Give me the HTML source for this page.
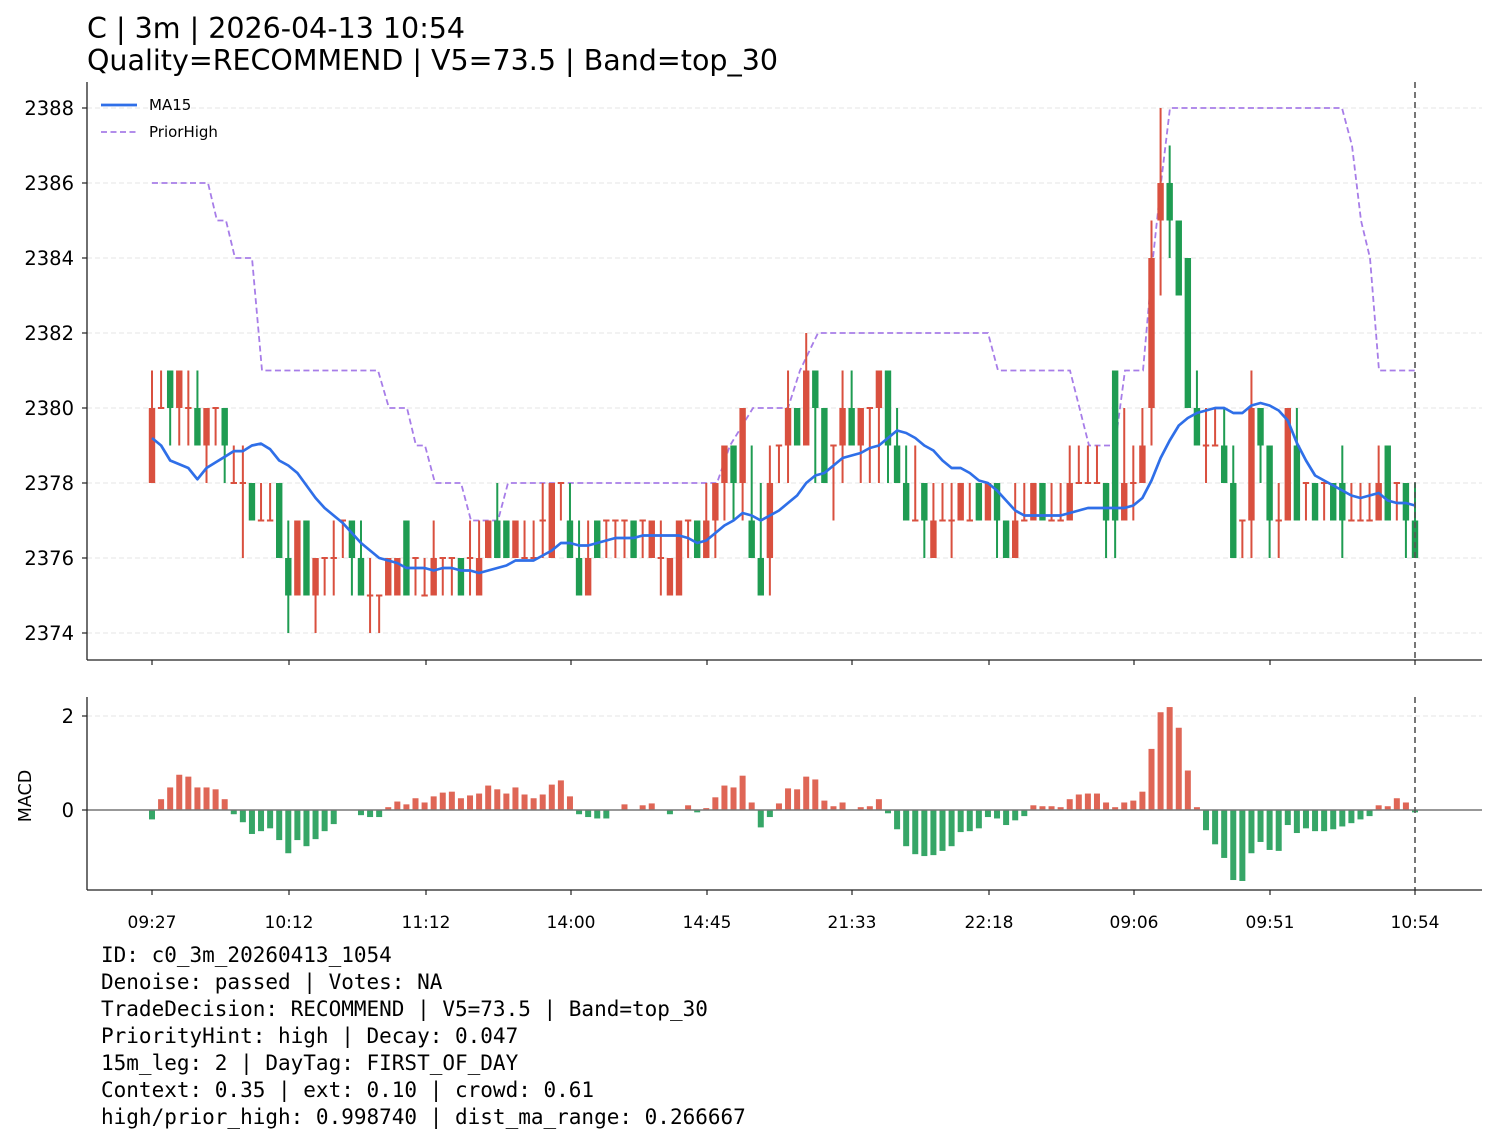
<!DOCTYPE html>
<html><head><meta charset="utf-8">
<style>
body{margin:0;background:#fff;}
svg text{font-family:"DejaVu Sans","Liberation Sans",sans-serif;}
.mono{font-family:"DejaVu Sans Mono","Liberation Mono",monospace;}
</style></head>
<body>
<svg id="s" width="1496" height="1143" xmlns="http://www.w3.org/2000/svg">
<rect width="1496" height="1143" fill="#fff"/>
<text x="87" y="38" font-size="28.5" fill="#000">C | 3m | 2026-04-13 10:54</text>
<text x="87" y="70" font-size="28.5" fill="#000">Quality=RECOMMEND | V5=73.5 | Band=top_30</text>
<g id="g"></g>
<g font-size="21" fill="#000">
<text class="mono" x="101" y="962">ID: c0_3m_20260413_1054</text>
<text class="mono" x="101" y="989">Denoise: passed | Votes: NA</text>
<text class="mono" x="101" y="1016">TradeDecision: RECOMMEND | V5=73.5 | Band=top_30</text>
<text class="mono" x="101" y="1043">PriorityHint: high | Decay: 0.047</text>
<text class="mono" x="101" y="1070">15m_leg: 2 | DayTag: FIRST_OF_DAY</text>
<text class="mono" x="101" y="1097">Context: 0.35 | ext: 0.10 | crowd: 0.61</text>
<text class="mono" x="101" y="1124">high/prior_high: 0.998740 | dist_ma_range: 0.266667</text>
</g>
</svg>
<script>
var C=[[2378,2380,2381,2378],[2380,2380,2381,2380],[2381,2380,2381,2379],[2380,2381,2381,2379],[2380,2380,2381,2379],[2380,2379,2381,2379],[2379,2380,2380,2378],[2380,2380,2380,2379],[2380,2379,2380,2378],[2378,2378,2379,2378],
[2378,2378,2379,2376],[2378,2377,2378,2377],[2377,2377,2378,2377],[2377,2377,2378,2377],[2378,2376,2378,2376],[2376,2375,2377,2374],[2375,2377,2377,2375],[2377,2375,2377,2375],[2375,2376,2376,2374],[2376,2376,2376,2375],
[2376,2376,2377,2375],[2377,2377,2377,2376],[2377,2376,2377,2375],[2376,2375,2377,2375],[2375,2375,2376,2374],[2375,2375,2375,2374],[2375,2376,2376,2375],[2375,2376,2376,2375],[2377,2375,2377,2375],[2376,2376,2376,2375],
[2375,2375,2376,2375],[2375,2376,2377,2375],[2376,2376,2376,2375],[2376,2376,2376,2375],[2376,2375,2376,2375],[2376,2376,2377,2375],[2375,2376,2377,2375],[2376,2377,2377,2376],[2377,2376,2378,2376],[2377,2376,2377,2376],
[2376,2377,2377,2376],[2376,2376,2377,2376],[2376,2376,2377,2376],[2377,2377,2378,2376],[2376,2378,2378,2376],[2378,2378,2378,2377],[2377,2376,2378,2376],[2376,2375,2377,2375],[2375,2376,2377,2375],[2377,2376,2377,2376],
[2377,2377,2377,2376],[2377,2377,2377,2376],[2377,2377,2377,2376],[2377,2376,2377,2376],[2377,2377,2377,2376],[2376,2377,2377,2376],[2376,2376,2377,2375],[2375,2376,2376,2375],[2375,2377,2377,2375],[2377,2377,2377,2376],
[2377,2376,2377,2376],[2376,2377,2378,2376],[2377,2378,2378,2376],[2378,2379,2379,2377],[2379,2378,2379,2377],[2378,2380,2380,2377],[2377,2376,2379,2376],[2376,2375,2378,2375],[2376,2378,2379,2375],[2379,2379,2379,2378],
[2379,2380,2381,2378],[2380,2379,2380,2379],[2379,2381,2382,2379],[2381,2380,2381,2378],[2380,2378,2380,2378],[2379,2379,2379,2377],[2379,2380,2381,2378],[2380,2379,2381,2379],[2379,2380,2380,2378],[2380,2380,2380,2378],
[2380,2381,2381,2378],[2381,2379,2381,2378],[2379,2378,2380,2378],[2378,2377,2379,2377],[2377,2377,2379,2377],[2378,2377,2378,2376],[2376,2377,2378,2376],[2377,2377,2378,2377],[2377,2377,2378,2376],[2377,2378,2378,2377],
[2377,2377,2378,2377],[2378,2377,2378,2377],[2377,2378,2378,2377],[2378,2377,2378,2376],[2377,2376,2377,2376],[2376,2377,2378,2376],[2377,2377,2378,2377],[2377,2378,2378,2377],[2378,2377,2378,2377],[2377,2377,2378,2377],
[2377,2377,2378,2377],[2377,2378,2379,2377],[2378,2378,2379,2378],[2378,2378,2379,2378],[2378,2378,2379,2378],[2378,2377,2378,2376],[2381,2377,2381,2376],[2377,2378,2380,2377],[2378,2378,2379,2377],[2378,2379,2380,2378],
[2380,2384,2385,2379],[2385,2386,2388,2383],[2386,2385,2387,2384],[2385,2383,2385,2383],[2384,2380,2384,2380],[2380,2379,2381,2379],[2379,2379,2380,2378],[2379,2379,2380,2379],[2379,2378,2380,2378],[2378,2376,2379,2376],
[2377,2377,2377,2376],[2377,2380,2381,2376],[2380,2379,2380,2378],[2379,2377,2379,2376],[2377,2377,2378,2376],[2377,2380,2380,2377],[2379,2377,2380,2377],[2378,2378,2378,2377],[2378,2377,2378,2377],[2378,2378,2378,2377],
[2378,2377,2378,2377],[2378,2377,2379,2376],[2377,2377,2378,2377],[2377,2377,2378,2377],[2377,2377,2378,2377],[2377,2378,2379,2377],[2379,2377,2379,2377],[2378,2378,2378,2377],[2378,2377,2378,2376],[2377,2376,2378,2376]];
var M=[-0.20,0.23,0.48,0.75,0.71,0.48,0.48,0.44,0.23,-0.09,-0.26,-0.51,-0.45,-0.39,-0.64,-0.92,-0.64,-0.77,-0.62,-0.45,-0.30,0,0.01,-0.11,-0.15,-0.15,0.06,0.18,0.12,0.25,0.16,0.29,0.37,0.39,0.25,0.31,0.35,0.52,0.44,0.35,0.48,0.33,0.25,0.33,0.54,0.63,0.29,-0.09,-0.15,-0.18,-0.18,0.01,0.12,0,0.10,0.14,0,-0.09,0.01,0.10,-0.05,0.04,0.27,0.52,0.48,0.73,0.16,-0.37,-0.15,0.14,0.46,0.44,0.71,0.65,0.20,0.08,0.16,0,0.06,0.08,0.23,-0.07,-0.41,-0.77,-0.94,-0.98,-0.96,-0.87,-0.77,-0.47,-0.45,-0.39,-0.15,-0.18,-0.32,-0.22,-0.13,0.10,0.08,0.08,0.06,0.23,0.33,0.35,0.35,0.16,0.06,0.16,0.20,0.39,1.30,2.08,2.19,1.75,0.84,0.06,-0.43,-0.73,-1.02,-1.49,-1.51,-0.92,-0.68,-0.85,-0.87,-0.32,-0.49,-0.39,-0.45,-0.45,-0.41,-0.35,-0.28,-0.20,-0.13,0.10,0.08,0.25,0.16,-0.05];
var PH=[[152,2386],[208,2386],[217,2385],[226,2385],[235,2384],[252,2384],[262,2381],[378,2381],[389,2380],[407,2380],[416,2379],[425,2379],[435,2378],[461,2378],[471,2377],[498,2377],[508,2378],[717,2378],[730,2379],[753,2380],[788,2380],[800,2381],[818,2382],[988,2382],[998,2381],[1070,2381],[1089,2379],[1115,2379],[1125,2381],[1143,2381],[1153,2384],[1161,2386],[1170,2388],[1342,2388],[1352,2387],[1361,2385],[1370,2384],[1379,2381],[1415,2381]];
var MA0=[2379.2,2379.0,2378.6,2378.5,2378.4,2378.1,2378.4,2378.55,2378.7,2378.85,2378.85,2379.0,2379.05,2378.9,2378.6];
function X(i){return 152+i*(1415-152)/139;}
function Y(v){return 108+(2388-v)*37.5;}
function MY(v){return 810+(-v)*47;}
var h='';
for(var v=2374;v<=2388;v+=2){var y=Y(v);h+='<line x1="87" x2="1482" y1="'+y+'" y2="'+y+'" stroke="#e6e6e6" stroke-dasharray="5,3"/>';
h+='<line x1="82" x2="87" y1="'+y+'" y2="'+y+'" stroke="#222" stroke-width="1.2"/><text x="74" y="'+(y+7)+'" font-size="19.5" text-anchor="end">'+v+'</text>';}
h+='<line x1="87" x2="1482" y1="716" y2="716" stroke="#e6e6e6" stroke-dasharray="5,3"/>';
h+='<line x1="82" x2="87" y1="716" y2="716" stroke="#222" stroke-width="1.2"/><text x="74" y="723" font-size="19.5" text-anchor="end">2</text>';
h+='<line x1="82" x2="87" y1="810" y2="810" stroke="#222" stroke-width="1.2"/><text x="74" y="817" font-size="19.5" text-anchor="end">0</text>';
h+='<text transform="translate(31,796) rotate(-90)" font-size="17.5" text-anchor="middle">MACD</text>';
var p='';PH.forEach(function(q,k){p+=(k?'L':'M')+q[0]+' '+Y(q[1]);});
h+='<path d="'+p+'" fill="none" stroke="#a77de8" stroke-width="1.8" stroke-dasharray="6,3.5"/>';
C.forEach(function(c,i){var x=X(i),col=(c[1]<c[0])?'#1f9c52':'#d9503f';
h+='<line x1="'+x+'" x2="'+x+'" y1="'+Y(c[2])+'" y2="'+Y(c[3])+'" stroke="'+col+'" stroke-width="2"/>';
var t=Y(Math.max(c[0],c[1])),b=Y(Math.min(c[0],c[1]));if(b-t<2){t-=1;b=t+2;}
h+='<rect x="'+(x-3.2)+'" y="'+t+'" width="6.4" height="'+(b-t)+'" fill="'+col+'"/>';});
var s=[],p2='';C.forEach(function(c,i){s.push(c[1]);var a=s.slice(Math.max(0,i-14)),m=a.reduce(function(u,w){return u+w;},0)/a.length;if(i<15)m=MA0[i];p2+=(i?'L':'M')+X(i).toFixed(1)+' '+Y(m).toFixed(1);});
h+='<path d="'+p2+'" fill="none" stroke="#2f6fe8" stroke-width="2.7" stroke-linejoin="round"/>';
M.forEach(function(v,i){var x=X(i),y=MY(v);h+='<rect x="'+(x-3)+'" y="'+Math.min(y,810)+'" width="6" height="'+Math.abs(y-810)+'" fill="'+(v>=0?'#df6656':'#36a667')+'"/>';});
h+='<line x1="87" x2="1482" y1="810" y2="810" stroke="#777" stroke-width="1.6"/>';
h+='<line x1="1415" x2="1415" y1="82" y2="660" stroke="#555" stroke-width="1.6" stroke-dasharray="6,4"/>';
h+='<line x1="1415" x2="1415" y1="697" y2="890" stroke="#555" stroke-width="1.6" stroke-dasharray="6,4"/>';
h+='<line x1="87" x2="87" y1="82" y2="660" stroke="#222" stroke-width="1.3"/><line x1="87" x2="1482" y1="660" y2="660" stroke="#222" stroke-width="1.3"/>';
h+='<line x1="87" x2="87" y1="697" y2="890" stroke="#222" stroke-width="1.3"/><line x1="87" x2="1482" y1="890" y2="890" stroke="#222" stroke-width="1.3"/>';
var L=['09:27','10:12','11:12','14:00','14:45','21:33','22:18','09:06','09:51','10:54'],XP=[152,289,426,571,707,852,989,1134,1270,1415];
L.forEach(function(l,k){h+='<line x1="'+XP[k]+'" x2="'+XP[k]+'" y1="660" y2="665" stroke="#222" stroke-width="1.2"/><line x1="'+XP[k]+'" x2="'+XP[k]+'" y1="890" y2="895" stroke="#222" stroke-width="1.2"/><text x="'+XP[k]+'" y="928" font-size="17" text-anchor="middle">'+l+'</text>';});
h+='<line x1="101" x2="137" y1="105" y2="105" stroke="#2f6fe8" stroke-width="2.7"/><text x="149" y="110" font-size="15">MA15</text>';
h+='<line x1="101" x2="137" y1="132" y2="132" stroke="#a77de8" stroke-width="1.8" stroke-dasharray="6,3.5"/><text x="149" y="137" font-size="15">PriorHigh</text>';
document.getElementById('g').innerHTML=h;
</script>
</body></html>
